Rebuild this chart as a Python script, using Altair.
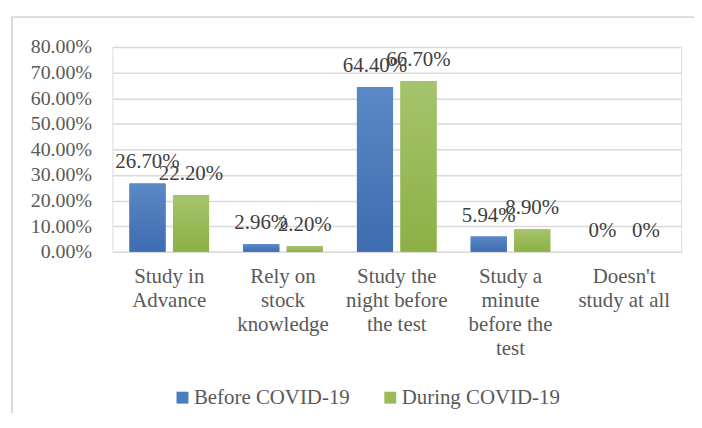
import altair as alt
import pandas as pd

categories = [
    "Study in\nAdvance",
    "Rely on\nstock\nknowledge",
    "Study the\nnight before\nthe test",
    "Study a\nminute\nbefore the\ntest",
    "Doesn't\nstudy at all",
]
series = ["Before COVID-19", "During COVID-19"]
before_values = [0.267, 0.0296, 0.644, 0.0594, 0.0]
during_values = [0.222, 0.022, 0.667, 0.089, 0.0]
before_labels = ["26.70%", "2.96%", "64.40%", "5.94%", "0%"]
during_labels = ["22.20%", "2.20%", "66.70%", "8.90%", "0%"]
y_ticks = [0.0, 0.1, 0.2, 0.3, 0.4, 0.5, 0.6, 0.7, 0.8]

rows = []
for c, v, l in zip(categories, before_values, before_labels):
    rows.append({"category": c, "series": series[0], "value": v, "label": l})
for c, v, l in zip(categories, during_values, during_labels):
    rows.append({"category": c, "series": series[1], "value": v, "label": l})
df = pd.DataFrame(rows)

FONT = "Liberation Serif"
GRAY = "#595959"
BLUE = "#4A7EBF"
GREEN = "#9BBB59"
blue_grad = {
    "gradient": "linear", "x1": 0, "y1": 0, "x2": 0, "y2": 1,
    "stops": [{"offset": 0, "color": "#5B88C6"}, {"offset": 1, "color": "#3D6CB0"}],
}
green_grad = {
    "gradient": "linear", "x1": 0, "y1": 0, "x2": 0, "y2": 1,
    "stops": [{"offset": 0, "color": "#A5C46C"}, {"offset": 1, "color": "#8DB045"}],
}

x_enc = alt.X(
    "category:N",
    sort=categories,
    scale=alt.Scale(paddingInner=0.3, paddingOuter=0.15),
    axis=alt.Axis(
        title=None, domain=False, ticks=False, tickSize=0, labelAngle=0,
        labelFont=FONT, labelFontSize=21, labelColor=GRAY, labelPadding=14,
        labelLineHeight=24, labelOverlap=False, labelBaseline="top",
        labelExpr="split(datum.label, '\\n')",
    ),
)
xoff_enc = alt.XOffset(
    "series:N", sort=series,
    scale=alt.Scale(domain=series, paddingInner=0.17, paddingOuter=0),
)
y_enc = alt.Y(
    "value:Q",
    scale=alt.Scale(domain=[0, 0.8], nice=False),
    axis=alt.Axis(
        title=None, values=y_ticks, format=".2%", domain=False, ticks=False,
        tickSize=0, labelFont=FONT, labelFontSize=20, labelColor=GRAY,
        labelPadding=21, gridColor="#D9D9D9", gridWidth=1.5,
    ),
)

base = alt.Chart(df)

legend_bars = base.mark_bar().encode(
    x=x_enc, xOffset=xoff_enc, y=y_enc,
    color=alt.Color(
        "series:N",
        scale=alt.Scale(domain=series, range=[BLUE, GREEN]),
        legend=alt.Legend(
            title=None, orient="none", direction="horizontal",
            legendX=60, legendY=342, symbolType="square", symbolSize=144,
            symbolStrokeWidth=0, labelFont=FONT, labelFontSize=21,
            labelColor=GRAY, columnPadding=30, labelOffset=1, padding=0,
        ),
    ),
)

grad_bars = base.mark_bar().encode(
    x=x_enc, xOffset=xoff_enc, y=y_enc,
    color=alt.condition(
        alt.datum.series == series[0], alt.value(blue_grad), alt.value(green_grad)
    ),
)

labels = base.mark_text(
    font=FONT, fontSize=21, color="#404040", baseline="alphabetic", dy=-15
).encode(x=x_enc, xOffset=xoff_enc, y=y_enc, text="label:N")

frame = alt.Chart(pd.DataFrame({"a": [0]})).mark_rect(
    fill=None, stroke="#D9D9D9", strokeWidth=2
).encode(
    x=alt.value(-101), x2=alt.value(800), y=alt.value(-30), y2=alt.value(600)
)

chart = (
    alt.layer(frame, legend_bars, grad_bars, labels)
    .properties(
        width=572, height=206,
        autosize=alt.AutoSizeParams(type="none"),
        padding={"left": 105, "top": 38, "right": 13, "bottom": 161},
    )
    .configure_view(stroke=None)
    .configure(background="white")
)

chart.save("out.html", embed_options={"renderer": "svg", "actions": False})
